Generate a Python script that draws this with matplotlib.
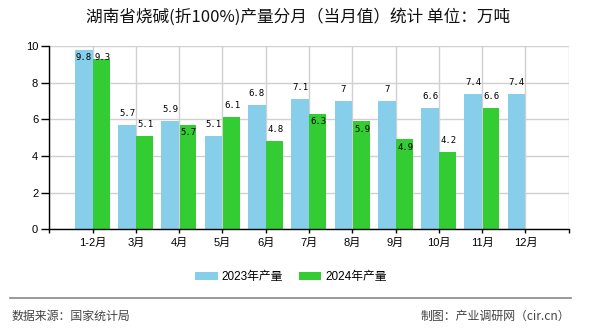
import matplotlib
matplotlib.use("Agg")
import matplotlib.pyplot as plt
from matplotlib.patches import Patch
from matplotlib.lines import Line2D
import numpy as np

plt.rcParams['font.family'] = ['Liberation Sans', 'Noto Sans CJK SC', 'DejaVu Sans']

categories = ['1-2月', '3月', '4月', '5月', '6月', '7月', '8月', '9月', '10月', '11月', '12月']
values_2023 = [9.8, 5.7, 5.9, 5.1, 6.8, 7.1, 7.0, 7.0, 6.6, 7.4, 7.4]
values_2024 = [9.3, 5.1, 5.7, 6.1, 4.8, 6.3, 5.9, 4.9, 4.2, 6.6, None]
series_names = ['2023年产量', '2024年产量']
title = '湖南省烧碱(折100%)产量分月（当月值）统计 单位：万吨'
source_text = '数据来源：国家统计局'
credit_text = '制图：产业调研网（cir.cn）'
y_ticks = [0, 2, 4, 6, 8, 10]

# label placement style: green labels drawn inside the bar top for these categories
inside_2024 = [False, False, True, False, False, True, True, True, False, False, False]

C23 = '#87CEEB'
C24 = '#33CC33'

W, H = 590, 330
fig = plt.figure(figsize=(W / 100, H / 100), dpi=100)
ax_l, ax_r, ax_t, ax_b = 49.3, 568.7, 46.0, 229.3
ax = fig.add_axes([ax_l / W, 1 - ax_b / H, (ax_r - ax_l) / W, (ax_b - ax_t) / H])

x = np.arange(len(categories))
bw = 0.41
ax.bar(x - bw / 2, values_2023, width=bw, color=C23, zorder=2)
v24 = [np.nan if v is None else v for v in values_2024]
ax.bar(x + bw / 2, v24, width=bw * 0.95, color=C24, zorder=2)

ax.set_xlim(-1, len(categories))
ax.set_ylim(0, 10)

px_per_unit = (ax_b - ax_t) / 10.0
above = 11.5 / px_per_unit
below = 8.0 / px_per_unit
cap = 10 - 12.0 / px_per_unit

label_font = dict(family=['DejaVu Sans Mono'], fontsize=6.5, color='black', ha='center', va='center', zorder=3)
for i, v in enumerate(values_2023):
    y = min(v + above, cap)
    ax.text(x[i] - bw / 2, y, f'{v:g}', **label_font)
for i, v in enumerate(values_2024):
    if v is None:
        continue
    y = v - below if inside_2024[i] else min(v + above, cap)
    ax.text(x[i] + bw / 2 + 0.02, y, f'{v:g}', **label_font)

# ticks & grid
ax.set_xticks(np.arange(-1, len(categories) + 1))
ax.set_xticklabels([''] + categories + [''], fontsize=8)
ax.set_yticks(y_ticks)
ax.set_yticklabels([str(t) for t in y_ticks], fontsize=8)
ax.tick_params(axis='x', length=3, width=1, pad=3, direction='out')
ax.tick_params(axis='y', length=6, width=1, pad=2, direction='out')
ax.grid(True, color='#D0D0D0', linewidth=1.0, zorder=0)
ax.set_axisbelow(True)
for s in ['top', 'right']:
    ax.spines[s].set_visible(False)
for s in ['left', 'bottom']:
    ax.spines[s].set_color('black')
    ax.spines[s].set_linewidth(1.0)

# title
fig.text(298 / W, 1 - 16.7 / H, title, ha='center', va='center', fontsize=12,
         family=['Noto Sans CJK SC', 'DejaVu Sans'], color='#111111')

# legend
handles = [Patch(facecolor=C23, edgecolor='none'), Patch(facecolor=C24, edgecolor='none')]
fig.legend(handles, series_names, loc='center', bbox_to_anchor=(291 / W, 1 - 277 / H),
           ncol=2, frameon=False, fontsize=8.5, handlelength=1.9, handleheight=0.75,
           handletextpad=0.35, columnspacing=1.3, borderpad=0)

# footer
fig.add_artist(Line2D([10 / W, 571 / W], [1 - 298.3 / H, 1 - 298.3 / H],
                      color='#888888', linewidth=1.2, transform=fig.transFigure))
fig.text(11.5 / W, 1 - 316.7 / H, source_text, ha='left', va='center', fontsize=8.6,
         family=['Noto Sans CJK SC', 'DejaVu Sans'], color='#444444')
fig.text(570 / W, 1 - 316.7 / H, credit_text, ha='right', va='center', fontsize=8.6,
         family=['Noto Sans CJK SC', 'DejaVu Sans'], color='#444444')

fig.savefig('out.png', dpi=100)
